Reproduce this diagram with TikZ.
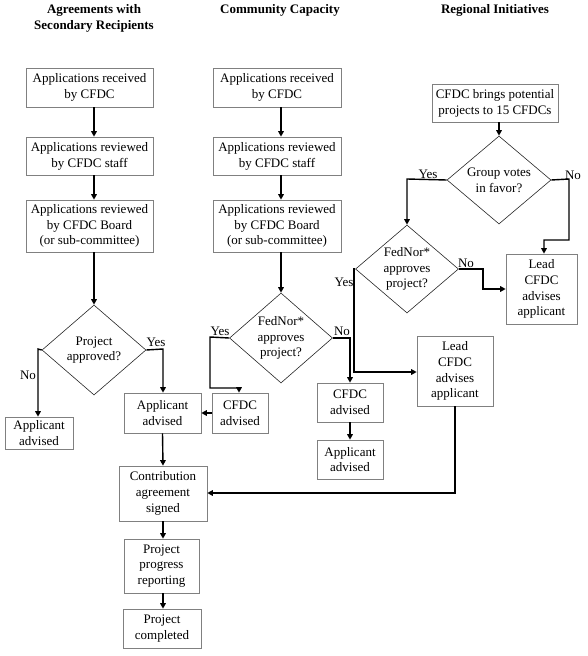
\documentclass[tikz,border=0pt]{standalone}
\usepackage{fontspec}
\setmainfont{Liberation Serif}
\usetikzlibrary{shapes.geometric,arrows.meta,calc}
\begin{document}
\begin{tikzpicture}[x=1pt,y=-1pt,
  every node/.style={font=\fontsize{13}{15.8}\selectfont, align=center, inner sep=0pt},
  box/.style={draw=black!50, line width=0.6pt, rectangle},
  dia/.style={draw=black!85, line width=0.6pt, diamond, aspect=1.15},
  hdr/.style={font=\fontsize{13}{16}\selectfont\bfseries},
  lbl/.style={font=\fontsize{13}{14}\selectfont},
  arr/.style={draw=black, line width=1.4pt, -{Triangle[length=5.5pt,width=5.5pt]}},
  ln/.style={draw=black, line width=1.4pt}]
\useasboundingbox (0,0) rectangle (588,656);
% headers
\node[hdr] (h1) at (94,18) {Agreements with\\Secondary Recipients};
\node[hdr] (h2) at (280,10) {Community Capacity};
\node[hdr] (h3) at (495,10) {Regional Initiatives};
% column A
\node[box, minimum width=127pt, minimum height=39pt] (A1) at (89.5,87.5) {Applications received\\by CFDC};
\node[box, minimum width=127pt, minimum height=38pt] (A2) at (89.5,156) {Applications reviewed\\by CFDC staff};
\node[box, minimum width=127pt, minimum height=52pt] (A3) at (89.5,226) {Applications reviewed\\by CFDC Board\\(or sub-committee)};
\node[dia, minimum width=104pt, minimum height=90pt] (Ad) at (94,350) {Project\\approved?};
\node[box, minimum width=68pt, minimum height=32pt] (Aadv) at (39,433) {Applicant\\advised};
\node[box, minimum width=77pt, minimum height=40pt] (B) at (162.5,413) {Applicant\\advised};
\node[box, minimum width=88pt, minimum height=55pt] (Con) at (163,493.5) {Contribution\\agreement\\signed};
\node[box, minimum width=75pt, minimum height=54pt] (Prog) at (161.5,566) {Project\\progress\\reporting};
\node[box, minimum width=78pt, minimum height=39pt] (Comp) at (162,628.5) {Project\\completed};
% column C
\node[box, minimum width=128pt, minimum height=39pt] (C1) at (277,87.5) {Applications received\\by CFDC};
\node[box, minimum width=128pt, minimum height=38pt] (C2) at (277,156) {Applications reviewed\\by CFDC staff};
\node[box, minimum width=128pt, minimum height=52pt] (C3) at (277,226) {Applications reviewed\\by CFDC Board\\(or sub-committee)};
\node[dia, minimum width=103pt, minimum height=90pt] (Cd) at (281,338) {FedNor*\\approves\\project?};
\node[box, minimum width=56pt, minimum height=40pt] (Cy) at (240,413) {CFDC\\advised};
\node[box, minimum width=66pt, minimum height=39pt] (Cn) at (350,402.5) {CFDC\\advised};
\node[box, minimum width=66pt, minimum height=39pt] (Cadv) at (350,459.5) {Applicant\\advised};
% column R
\node[box, minimum width=126pt, minimum height=38pt] (R1) at (495,103) {CFDC brings potential\\projects to 15 CFDCs};
\node[dia, minimum width=104pt, minimum height=88pt] (Rd) at (499,180) {Group votes\\in favor?};
\node[dia, minimum width=103pt, minimum height=88pt] (Rf) at (407,269) {FedNor*\\approves\\project?};
\node[box, minimum width=71pt, minimum height=70pt] (Rn) at (541.5,289) {Lead\\CFDC\\advises\\applicant};
\node[box, minimum width=76pt, minimum height=70pt] (Ry) at (455,371) {Lead\\CFDC\\advises\\applicant};
% corner coordinates
\coordinate (aNo) at (38,349);
\coordinate (aYes) at (163,349);
\coordinate (cY1) at (210,337);
\coordinate (cY2) at (210,388);
\coordinate (cY3) at (239,388);
\coordinate (cNo) at (350,338);
\coordinate (rY) at (407,179);
\coordinate (rN1) at (569,179);
\coordinate (rN2) at (569,240);
\coordinate (rN3) at (544,240);
\coordinate (fN1) at (483,269);
\coordinate (fN2) at (483,289);
\coordinate (fY1) at (354,269);
\coordinate (fY2) at (354,372);
\coordinate (ry1) at (455,493);
% arrows column A
\draw[arr] ($(A1.south)+(4.5,0)$) -- ($(A2.north)+(4.5,0)$);
\draw[arr] ($(A2.south)+(4.5,0)$) -- ($(A3.north)+(4.5,0)$);
\draw[arr] ($(A3.south)+(4.5,0)$) -- (Ad.north);
\draw[arr] (Ad.west) -- (aNo) -- (aNo |- Aadv.north);
\draw[arr] (Ad.east) -- (aYes) -- (aYes |- B.north);
\draw[arr] (Cy.west) -- (B.east);
\draw[arr] (B.south) -- (Con.north);
\draw[arr] (Con.south) -- (Con.south |- Prog.north);
\draw[arr] (Con.south |- Prog.south) -- (Con.south |- Comp.north);
% arrows column C
\draw[arr] ($(C1.south)+(4,0)$) -- ($(C2.north)+(4,0)$);
\draw[arr] ($(C2.south)+(4,0)$) -- ($(C3.north)+(4,0)$);
\draw[arr] ($(C3.south)+(4,0)$) -- (Cd.north);
\draw[arr] (Cd.west) -- (cY1) -- (cY2) -- (cY3) -- (cY3 |- Cy.north);
\draw[arr] (Cd.east) -- (cNo) -- (Cn.north);
\draw[arr] (Cn.south) -- (Cadv.north);
% arrows column R
\draw[arr] ($(R1.south)+(4,0)$) -- (Rd.north);
\draw[arr] (Rd.west) -- (rY) -- (Rf.north);
\draw[arr] (Rd.east) -- (rN1) -- (rN2) -- (rN3) -- (rN3 |- Rn.north);
\draw[arr] (Rf.east) -- (fN1) -- (fN2) -- (fN2 -| Rn.west);
\draw[arr] (Rf.west) -- (fY1) -- (fY2) -- (fY2 -| Ry.west);
\draw[arr] (Ry.south) -- (ry1) -- (ry1 -| Con.east);
% labels
\node[lbl] (lA1) at (28,375) {No};
\node[lbl] (lA2) at (156,342) {Yes};
\node[lbl] (lC1) at (220,331) {Yes};
\node[lbl] (lC2) at (342,331) {No};
\node[lbl] (lR1) at (428,174) {Yes};
\node[lbl] (lR2) at (573,175) {No};
\node[lbl] (lR3) at (466,263) {No};
\node[lbl] (lR4) at (344,282) {Yes};
\end{tikzpicture}
\end{document}
